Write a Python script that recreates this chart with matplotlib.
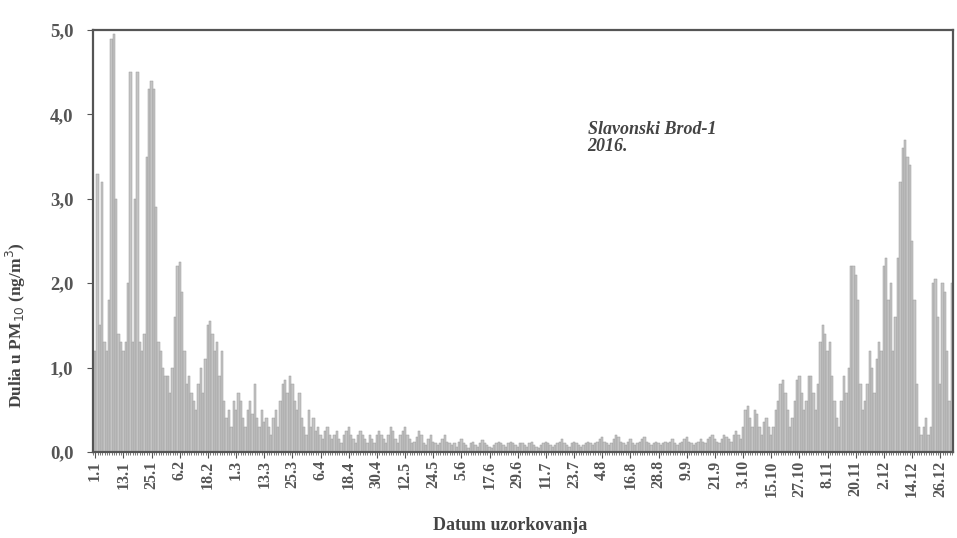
import numpy as np
import matplotlib
matplotlib.use("Agg")
import matplotlib.pyplot as plt
from matplotlib import ticker

# daily values, 2016 (leap year)
jan = [1.2, 3.3, 1.5, 3.2, 1.3, 1.2, 1.8, 4.9, 4.95, 3.0, 1.4, 1.3, 1.2, 1.3, 2.0, 4.5,
       1.3, 3.0, 4.5, 1.3, 1.2, 1.4, 3.5, 4.3, 4.4, 4.3, 2.9, 1.3, 1.2, 1.0, 0.9]
feb = [0.9, 0.7, 1.0, 1.6, 2.2, 2.25, 1.9, 1.2, 0.8, 0.9, 0.7, 0.6, 0.5, 0.8, 1.0,
       0.7, 1.1, 1.5, 1.55, 1.4, 1.2, 1.3, 0.9, 1.2, 0.6, 0.4, 0.5, 0.3, 0.6]
mar = [0.5, 0.7, 0.6, 0.4, 0.3, 0.5, 0.6, 0.45, 0.8, 0.4, 0.3, 0.5, 0.35, 0.4, 0.3, 0.2,
       0.4, 0.5, 0.3, 0.6, 0.8, 0.85, 0.7, 0.9, 0.8, 0.6, 0.5, 0.7, 0.4, 0.3, 0.2]
apr = [0.5, 0.3, 0.4, 0.25, 0.3, 0.2, 0.15, 0.25, 0.3, 0.2, 0.15, 0.2, 0.25, 0.15, 0.1,
       0.2, 0.25, 0.3, 0.2, 0.15, 0.1, 0.2, 0.25, 0.2, 0.15, 0.1, 0.2, 0.15, 0.1, 0.2]
may = [0.25, 0.2, 0.15, 0.1, 0.2, 0.3, 0.25, 0.15, 0.1, 0.2, 0.25, 0.3, 0.2, 0.15, 0.1, 0.12,
       0.18, 0.25, 0.2, 0.1, 0.08, 0.15, 0.2, 0.12, 0.1, 0.08, 0.1, 0.15, 0.2, 0.12, 0.1]
jun = [0.08, 0.1, 0.06, 0.12, 0.15, 0.1, 0.08, 0.05, 0.1, 0.12, 0.08, 0.06, 0.1, 0.14, 0.1,
       0.08, 0.06, 0.05, 0.08, 0.1, 0.12, 0.1, 0.08, 0.06, 0.1, 0.12, 0.1, 0.08, 0.06, 0.1]
jul = [0.1, 0.08, 0.06, 0.1, 0.12, 0.08, 0.06, 0.05, 0.08, 0.1, 0.12, 0.1, 0.08, 0.06, 0.08, 0.1,
       0.12, 0.15, 0.1, 0.08, 0.06, 0.1, 0.12, 0.1, 0.08, 0.06, 0.08, 0.1, 0.12, 0.1, 0.08]
aug = [0.1, 0.12, 0.15, 0.18, 0.12, 0.1, 0.08, 0.1, 0.15, 0.2, 0.18, 0.12, 0.1, 0.08, 0.12, 0.15,
       0.1, 0.08, 0.1, 0.12, 0.15, 0.18, 0.12, 0.1, 0.08, 0.1, 0.12, 0.1, 0.08, 0.1, 0.12]
sep = [0.1, 0.12, 0.15, 0.1, 0.08, 0.1, 0.12, 0.15, 0.18, 0.12, 0.1, 0.08, 0.1, 0.12, 0.15,
       0.12, 0.1, 0.15, 0.18, 0.2, 0.15, 0.12, 0.1, 0.15, 0.2, 0.18, 0.15, 0.12, 0.2, 0.25]
oct_ = [0.2, 0.15, 0.3, 0.5, 0.55, 0.4, 0.3, 0.5, 0.45, 0.3, 0.2, 0.35, 0.4, 0.3, 0.2, 0.3,
        0.5, 0.6, 0.8, 0.85, 0.7, 0.5, 0.3, 0.4, 0.6, 0.85, 0.9, 0.7, 0.5, 0.6, 0.9]
nov = [0.9, 0.7, 0.5, 0.8, 1.3, 1.5, 1.4, 1.2, 1.3, 0.9, 0.6, 0.4, 0.3, 0.6, 0.9,
       0.7, 1.0, 2.2, 2.2, 2.1, 1.8, 0.8, 0.5, 0.6, 0.8, 1.2, 1.0, 0.7, 1.1, 1.3]
dec = [1.2, 2.2, 2.3, 1.8, 2.0, 1.2, 1.6, 2.3, 3.2, 3.6, 3.7, 3.5, 3.4, 2.5, 1.8, 0.8,
       0.3, 0.2, 0.3, 0.4, 0.2, 0.3, 2.0, 2.05, 1.6, 0.8, 2.0, 1.9, 1.2, 0.6, 2.0]

tick_labels = ["1.1", "13.1", "25.1", "6.2", "18.2", "1.3", "13.3", "25.3", "6.4", "18.4",
               "30.4", "12.5", "24.5", "5.6", "17.6", "29.6", "11.7", "23.7", "4.8", "16.8",
               "28.8", "9.9", "21.9", "3.10", "15.10", "27.10", "8.11", "20.11", "2.12",
               "14.12", "26.12"]

values = np.array(jan + feb + mar + apr + may + jun + jul + aug + sep + oct_ + nov + dec)
days = np.arange(len(values))
assert len(values) == 366

serif = "Liberation Serif"

fig = plt.figure(figsize=(9.57, 5.38), dpi=100)
ax = fig.add_axes([0.097, 0.16, 0.899, 0.784])

ax.bar(days, values, width=1.0, color="#c4c4c4", edgecolor="#9a9a9a", linewidth=0.35)

ax.set_xlim(-1, 365.5)
ax.set_ylim(0, 5)

ax.set_xticks(days[::12][:len(tick_labels)])
ax.set_xticklabels(tick_labels, rotation=90, fontfamily=serif, fontsize=11.5,
                   fontweight="bold", color="#555555")
ax.xaxis.set_minor_locator(ticker.MultipleLocator(1))
ax.tick_params(axis="x", which="major", length=4, color="#555555", pad=2)
ax.tick_params(axis="x", which="minor", length=2, color="#666666")

ax.set_yticks(np.arange(0, 5.1, 1))
ax.yaxis.set_major_formatter(ticker.FuncFormatter(lambda v, p: f"{v:.1f}".replace(".", ",")))
for lab in ax.get_yticklabels():
    lab.set_fontfamily(serif)
    lab.set_fontsize(13.5)
    lab.set_fontweight("bold")
    lab.set_color("#555555")
ax.tick_params(axis="y", length=4, color="#555555", pad=10)

for s in ax.spines.values():
    s.set_color("#555555")
    s.set_linewidth(1.6)

ax.set_ylabel("Dulia u PM$_{10}$ (ng/m$^3$)", fontfamily=serif, fontsize=12.5,
              fontweight="bold", color="#444444")
ax.yaxis.set_label_coords(-0.075, 0.3)
ax.set_xlabel("Datum uzorkovanja", fontfamily=serif, fontsize=13,
              fontweight="bold", color="#444444")
ax.xaxis.set_label_coords(0.485, -0.155)

ax.text(0.575, 0.745, "Slavonski Brod-1\n2016.", transform=ax.transAxes,
        fontfamily=serif, fontsize=13, fontweight="bold", fontstyle="italic",
        color="#444444", va="center", ha="left", linespacing=1.0)

fig.savefig("out.png", dpi=100)
